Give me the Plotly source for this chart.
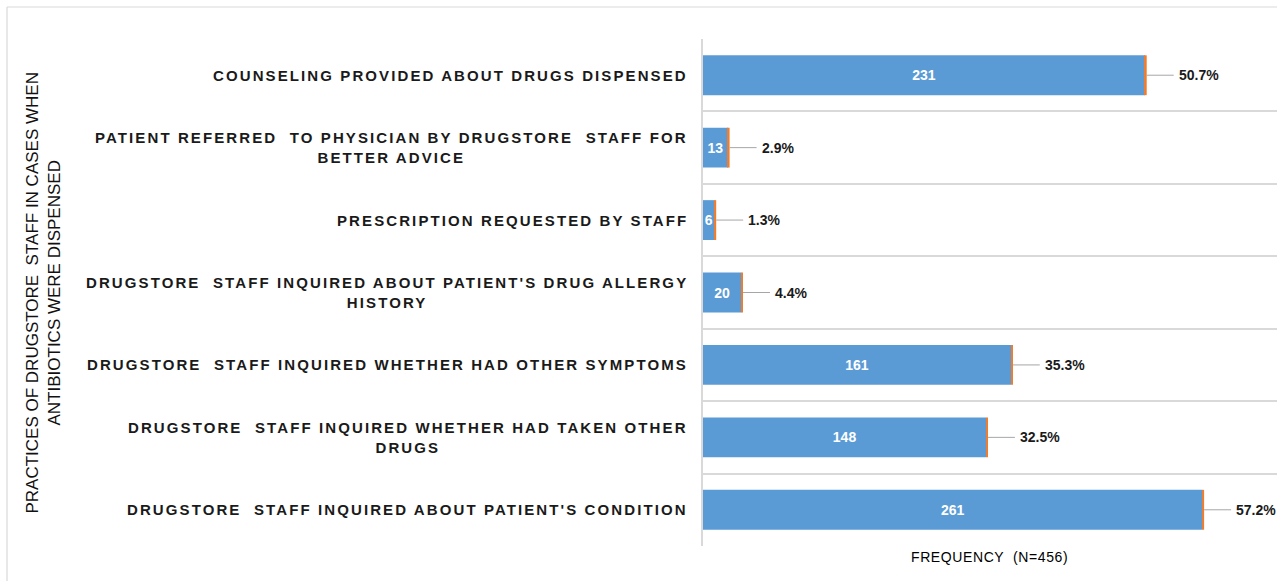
import plotly.graph_objects as go

categories = [
    "COUNSELING PROVIDED ABOUT DRUGS DISPENSED",
    "PATIENT REFERRED  TO PHYSICIAN BY DRUGSTORE  STAFF FOR<br>BETTER ADVICE",
    "PRESCRIPTION REQUESTED BY STAFF",
    "DRUGSTORE  STAFF INQUIRED ABOUT PATIENT'S DRUG ALLERGY<br>HISTORY",
    "DRUGSTORE  STAFF INQUIRED WHETHER HAD OTHER SYMPTOMS",
    "DRUGSTORE  STAFF INQUIRED WHETHER HAD TAKEN OTHER<br>DRUGS",
    "DRUGSTORE  STAFF INQUIRED ABOUT PATIENT'S CONDITION",
]
frequency = [231, 13, 6, 20, 161, 148, 261]
percent = [50.7, 2.9, 1.3, 4.4, 35.3, 32.5, 57.2]
x_title = "FREQUENCY  (N=456)"
y_title = "PRACTICES OF DRUGSTORE  STAFF IN CASES WHEN<br>ANTIBIOTICS WERE DISPENSED"

W, H = 1277, 581
L, R, T, B = 703, 0, 39, 35
pw, ph = W - L - R, H - T - B

def px_to_paper_x(px):
    return (px - L) / pw

def px_to_paper_y(py):
    return (H - B - py) / ph

ids = list(range(len(categories)))
edge = [0.9] * len(categories)
FONT = "Liberation Sans, Arial, sans-serif"

fig = go.Figure()
fig.add_trace(go.Bar(
    y=ids, x=frequency, orientation="h",
    marker=dict(color="#5B9BD5", line=dict(width=0)),
    width=0.55,
    text=[str(v) for v in frequency],
    textposition="inside", insidetextanchor="middle",
    constraintext="none",
    textfont=dict(family=FONT, size=14, color="white", weight="bold"),
    hoverinfo="skip",
))
fig.add_trace(go.Bar(
    y=ids, x=edge, base=frequency, orientation="h",
    marker=dict(color="#ED7D31", line=dict(width=0)),
    width=0.55, hoverinfo="skip",
))

annotations = []
for i, (c, f, p) in enumerate(zip(categories, frequency, percent)):
    spaced = "<br>".join(
        f"<span style='letter-spacing:2.1px'>{part}</span>" for part in c.split("<br>")
    )
    annotations.append(dict(
        xref="paper", yref="y", x=0, y=i, xshift=-13,
        xanchor="right", yanchor="middle", align="center",
        text="<b>" + spaced + "</b>", showarrow=False,
        font=dict(family=FONT, size=15, color="#1a1a1a"),
    ))
    annotations.append(dict(
        xref="x", yref="y", x=f + edge[i], y=i,
        text=f"<b>{p}%</b>", showarrow=True, arrowhead=0, arrowwidth=1,
        arrowcolor="#A6A6A6", ax=27, ay=0, xanchor="left", yanchor="middle",
        borderpad=4,
        font=dict(family=FONT, size=14, color="#1a1a1a"),
    ))

annotations.append(dict(
    xref="paper", yref="paper", x=px_to_paper_x(43), y=0.5,
    text=y_title, textangle=-90, showarrow=False,
    xanchor="center", yanchor="middle", align="center",
    font=dict(family=FONT, size=17, color="#111111"),
))
annotations.append(dict(
    xref="paper", yref="paper", x=px_to_paper_x(989), y=px_to_paper_y(557),
    text=f"<span style='letter-spacing:0.6px'>{x_title}</span>", showarrow=False,
    xanchor="center", yanchor="middle",
    font=dict(family=FONT, size=14, color="#000000"),
))

shapes = [
    dict(type="line", xref="paper", yref="paper",
         x0=px_to_paper_x(7), x1=px_to_paper_x(W + 20),
         y0=px_to_paper_y(7), y1=px_to_paper_y(7),
         line=dict(color="#D9D9D9", width=1.2)),
    dict(type="line", xref="paper", yref="paper",
         x0=px_to_paper_x(7), x1=px_to_paper_x(7),
         y0=px_to_paper_y(7), y1=px_to_paper_y(H + 20),
         line=dict(color="#D9D9D9", width=1.2)),
]

fig.update_layout(
    width=W, height=H,
    margin=dict(l=L, r=R, t=T, b=B),
    paper_bgcolor="white", plot_bgcolor="white",
    barmode="overlay", showlegend=False,
    xaxis=dict(range=[0, 300], showgrid=False, showticklabels=False, zeroline=False,
               showline=False, ticks=""),
    yaxis=dict(type="category", tickvals=ids, ticktext=["" for _ in ids],
               tickson="boundaries", showgrid=True, gridcolor="#D9D9D9", gridwidth=1.5,
               showline=True, linecolor="#D9D9D9", linewidth=1.5,
               autorange="reversed", ticks="", showticklabels=False, zeroline=False),
    annotations=annotations, shapes=shapes,
)

fig.write_html(
    "out.html",
    config={"displayModeBar": False},
    post_script="document.body.style.margin='0';document.body.style.overflow='hidden';",
)
